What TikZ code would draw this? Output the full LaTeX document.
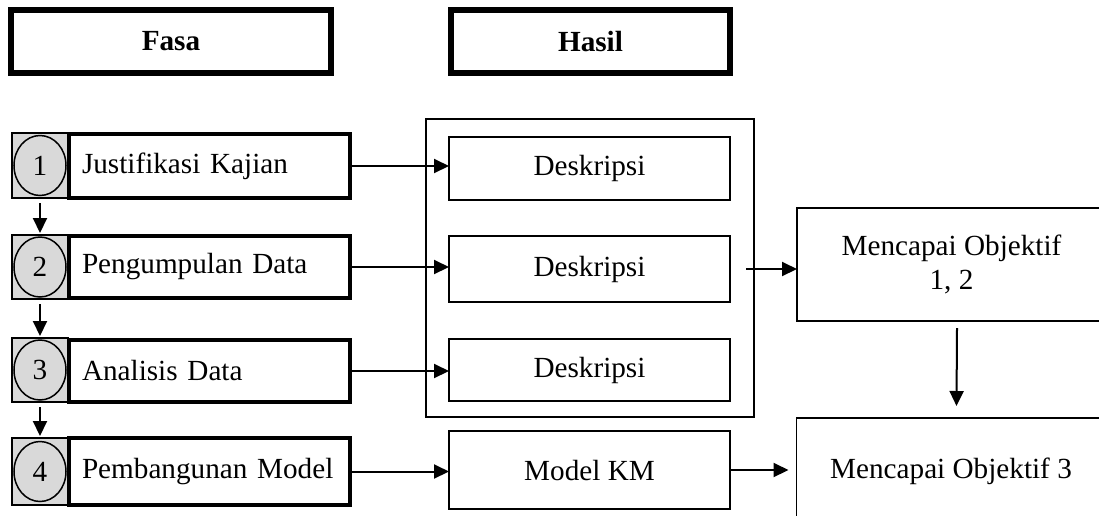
\documentclass[tikz,border=0pt]{standalone}
\usepackage{fontspec}
\setmainfont{Liberation Serif}
\usetikzlibrary{arrows.meta,shapes.geometric}
\definecolor{numgray}{HTML}{D9D9D9}
\begin{document}
\begin{tikzpicture}[x=1pt,y=-1pt,
  every node/.style={font=\fontsize{29.2}{34}\selectfont, inner sep=0pt, outer sep=0pt},
  header/.style={draw, line width=6.5pt, minimum width=#1, minimum height=63pt,
                 font=\fontsize{29.2}{34}\selectfont\bfseries},
  numsq/.style={draw, fill=numgray, line width=1.5pt, minimum width=56pt, minimum height=#1},
  numcirc/.style={draw, ellipse, line width=1.5pt, minimum width=52pt, minimum height=60pt},
  phase/.style={draw, line width=4pt, text width=255pt, align=left, inner xsep=13pt,
                minimum height=#1},
  desc/.style={draw, line width=1.6pt, minimum width=281pt, minimum height=#1},
  outbox/.style={draw, line width=1.6pt, minimum width=309pt, minimum height=#1, align=center},
  arr/.style={line width=2pt, -{Triangle[length=15pt,width=14pt]}}
]
\useasboundingbox (0,0) rectangle (1099,515);
\clip (0,0) rectangle (1099,515);

% headers
\node[header=320pt] (fasa) at (171,41.5) {Fasa};
\node[header=279pt] (hasil) at (590.5,41.5) {Hasil};

% container
\node[draw, line width=1.6pt, minimum width=328pt, minimum height=298pt] (cont) at (590,268) {};

% phases
\node[numsq=65pt] (g1) at (40,165.5) {};
\node[numsq=64pt] (g2) at (40,267) {};
\node[numsq=64pt] (g3) at (40,370) {};
\node[numsq=67pt] (g4) at (40,471.5) {};
\node[numcirc] (c1) at (g1) {1};
\node[numcirc] (c2) at (g2) {2};
\node[numcirc] (c3) at (g3) {3};
\node[numcirc] (c4) at (g4) {4};
\node[phase=64pt] (p1) at (209.5,166) {Justifikasi Kajian};
\node[phase=62pt] (p2) at (209.5,267) {Pengumpulan Data};
\node[phase=62pt] (p3) at (209.5,371) {Analisis Data};
\node[phase=67pt] (p4) at (209.5,471.5) {Pembangunan Model};

% results
\node[desc=63pt] (d1) at (589.5,168.5) {Deskripsi};
\node[desc=66pt] (d2) at (589.5,269) {Deskripsi};
\node[desc=62pt] (d3) at (589.5,370) {Deskripsi};
\node[desc=78pt] (km) at (589.5,470) {Model KM};

% objectives
\node[outbox=113pt] (m12) at (951.5,264.5) {Mencapai Objektif\\1, 2};
\node[outbox=112pt] (m3) at (951,474) {\raisebox{11pt}{Mencapai Objektif 3}};

% connectors
\draw[arr, shorten <=5pt, shorten >=2pt] (g1.south) -- (g2.north);
\draw[arr, shorten <=5pt, shorten >=2pt] (g2.south) -- (g3.north);
\draw[arr, shorten <=5pt, shorten >=2pt] (g3.south) -- (g4.north);

\draw[arr] (p1.east) -- (p1.east -| d1.west);
\draw[arr] (p2.east) -- (p2.east -| d2.west);
\draw[arr] (p3.east) -- (p3.east -| d3.west);
\draw[arr] (p4.east) -- (p4.east -| km.west);

\coordinate (cs) at (746,269);
\draw[arr] (cs) -- (cs -| m12.west);
\draw[arr, shorten >=8pt] (km.east) -- (km.east -| m3.west);
\draw[arr] ([xshift=5.5pt,yshift=-7pt]m12.south) -- ([xshift=5.5pt,yshift=12pt]m3.north);
\end{tikzpicture}
\end{document}
